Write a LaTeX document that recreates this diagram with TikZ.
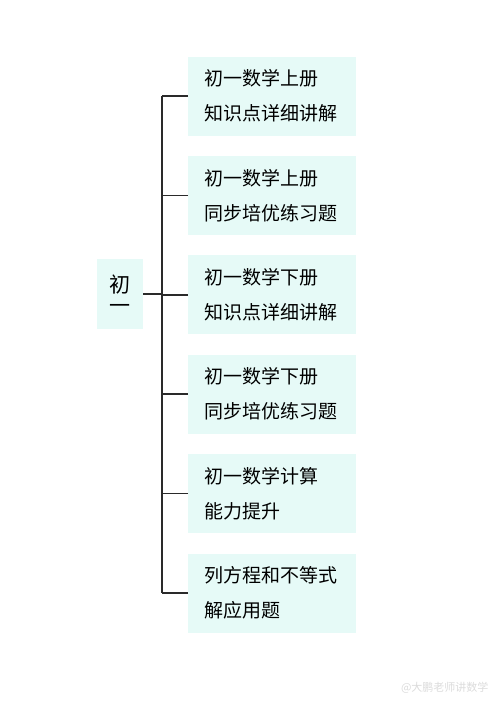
\documentclass[tikz,border=0pt]{standalone}
\usepackage{fontspec}
\newfontfamily\cjk{Noto Sans CJK SC}
\usetikzlibrary{positioning}
\definecolor{boxfill}{HTML}{E6FAF7}
\definecolor{linegray}{HTML}{2A2A2A}
\tikzset{
    topic/.style={fill=boxfill, minimum width=168pt, minimum height=79pt,
        text width=136pt, inner xsep=16pt, inner ysep=0pt, align=left,
        text=black, font=\cjk\fontsize{19}{35}\selectfont},
    root node/.style={fill=boxfill, minimum width=46pt, minimum height=70pt,
        inner sep=0pt, align=center, text=black,
        font=\cjk\fontsize{21}{21}\selectfont},
    branch/.style={draw=linegray, line width=1.5pt}
}
\begin{document}
\begin{tikzpicture}[x=1pt,y=1pt,node distance=20pt]
    \useasboundingbox (0,0) rectangle (500,-707);
    \node[topic, anchor=west] (b1) at (188,-96) {初一数学上册\\知识点详细讲解};
    \node[topic, below=of b1] (b2) {初一数学上册\\同步培优练习题};
    \node[topic, below=of b2] (b3) {初一数学下册\\知识点详细讲解};
    \node[topic, below=of b3] (b4) {初一数学下册\\同步培优练习题};
    \node[topic, below=of b4] (b5) {初一数学计算\\能力提升};
    \node[topic, below=of b5] (b6) {列方程和不等式\\解应用题};
    \node[root node] (root) at (120,-294) {初\\一};

    % spine of the bracket
    \coordinate (spine) at (162,0);
    \draw[branch] (b1.west -| spine) -- (b6.west -| spine);
    \draw[branch] (root.east) -- (root.east -| spine);
    \draw[branch] (b1.west) -- (b1.west -| spine);
    \draw[branch] (b2.west) -- (b2.west -| spine);
    \draw[branch] (b3.west) -- (b3.west -| spine);
    \draw[branch] (b4.west) -- (b4.west -| spine);
    \draw[branch] (b5.west) -- (b5.west -| spine);
    \draw[branch] (b6.west) -- (b6.west -| spine);

    \node[text=black!14, font=\cjk\fontsize{11}{11}\selectfont, anchor=east] (mark) at (492,-688) {@大鹏老师讲数学};
\end{tikzpicture}
\end{document}
